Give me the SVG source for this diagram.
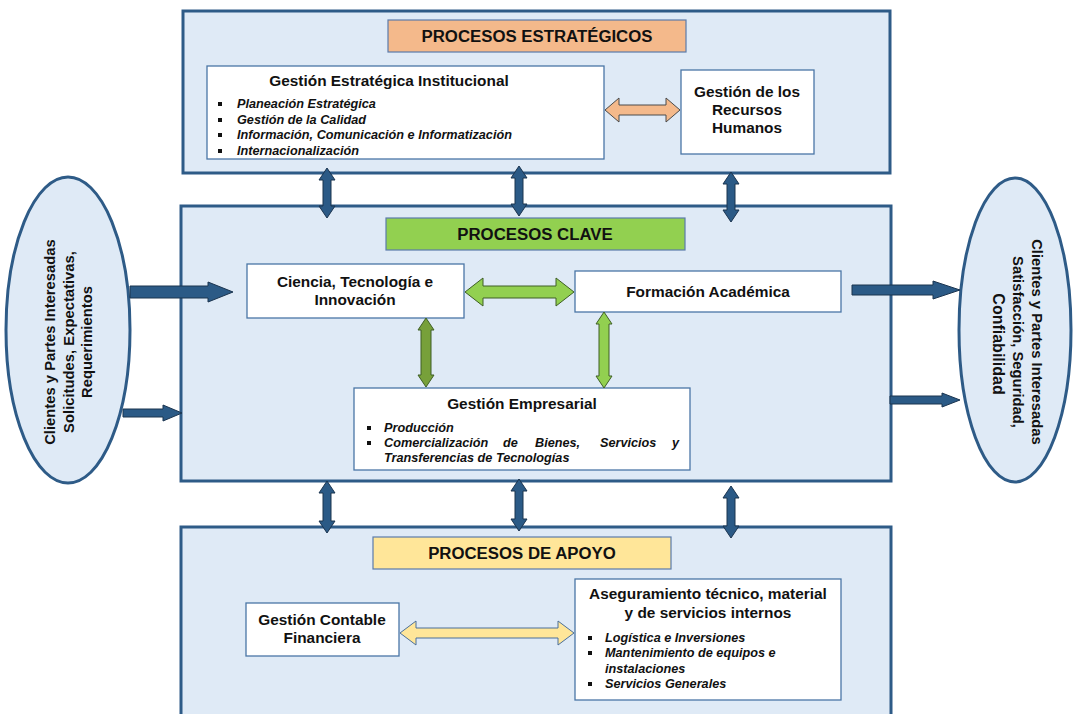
<svg xmlns="http://www.w3.org/2000/svg" width="1073" height="714" viewBox="0 0 1073 714">
<style>
.cont{fill:#dfeaf6;stroke:#2e5b87;stroke-width:3}
.box{fill:#ffffff;stroke:#4a76a6;stroke-width:1.3}
.ell{fill:#dfeaf6;stroke:#2e5b87;stroke-width:3}
.t{font-family:"Liberation Sans",Arial,sans-serif;font-weight:bold;fill:#111}
.ttl{font-size:16.8px;text-anchor:middle}
.hd{font-size:15.4px;text-anchor:middle}
.bl{font-size:12.7px;font-style:italic}
.side{font-size:14.8px;text-anchor:middle}
.bu{fill:#111}
.ba{fill:#2b5a86;stroke:#1b344f;stroke-width:1}
</style>
<rect width="1073" height="714" fill="#ffffff"/>

<g id="estrategicos">
<rect class="cont" x="183" y="11" width="707" height="162"/>
<rect x="388" y="20" width="298" height="32" fill="#f4b98b" stroke="#5b7bab" stroke-width="1.2"/>
<text class="t ttl" x="537" y="42">PROCESOS ESTRATÉGICOS</text>
</g>

<g id="clave">
<rect class="cont" x="181" y="206" width="710" height="275"/>
<rect x="386" y="218" width="299" height="32" fill="#92d050" stroke="#5b7bab" stroke-width="1.2"/>
<text class="t ttl" x="535" y="240">PROCESOS CLAVE</text>
</g>

<g id="apoyo">
<rect class="cont" x="181" y="527" width="710" height="200"/>
<rect x="373" y="537" width="298" height="32" fill="#ffe699" stroke="#5b7bab" stroke-width="1.2"/>
<text class="t ttl" x="522" y="559">PROCESOS DE APOYO</text>
</g>

<g id="gestion-estrategica">
<rect class="box" x="207" y="66" width="397" height="93"/>
<text class="t hd" x="389" y="86">Gestión Estratégica Institucional</text>
<rect class="bu" x="218" y="102" width="4" height="4"/>
<rect class="bu" x="218" y="118" width="4" height="4"/>
<rect class="bu" x="218" y="133" width="4" height="4"/>
<rect class="bu" x="218" y="149" width="4" height="4"/>
<text class="t bl" x="237" y="108">Planeación Estratégica</text>
<text class="t bl" x="237" y="124">Gestión de la Calidad</text>
<text class="t bl" x="237" y="139">Información, Comunicación e Informatización</text>
<text class="t bl" x="237" y="155">Internacionalización</text>
</g>

<g id="recursos-humanos">
<rect class="box" x="681" y="70" width="133" height="84"/>
<text class="t hd" x="747" y="97">Gestión de los</text>
<text class="t hd" x="747" y="115">Recursos</text>
<text class="t hd" x="747" y="133">Humanos</text>
</g>

<g id="ciencia">
<rect class="box" x="247" y="264" width="217" height="54"/>
<text class="t hd" x="355" y="287">Ciencia, Tecnología e</text>
<text class="t hd" x="355" y="305">Innovación</text>
</g>

<g id="formacion">
<rect class="box" x="575" y="271" width="266" height="41"/>
<text class="t hd" x="708" y="297">Formación Académica</text>
</g>

<g id="gestion-empresarial">
<rect class="box" x="354" y="388" width="336" height="82"/>
<text class="t hd" x="522" y="409">Gestión Empresarial</text>
<rect class="bu" x="367" y="426" width="4" height="4"/>
<rect class="bu" x="367" y="441" width="4" height="4"/>
<text class="t bl" x="384" y="432">Producción</text>
<text class="t bl" y="447"><tspan x="384">Comercialización</tspan> <tspan x="503">de</tspan> <tspan x="535">Bienes,</tspan> <tspan x="600">Servicios</tspan> <tspan x="672">y</tspan></text>
<text class="t bl" x="384" y="462">Transferencias de Tecnologías</text>
</g>

<g id="contable">
<rect class="box" x="246" y="603" width="153" height="53"/>
<text class="t hd" x="322" y="625">Gestión Contable</text>
<text class="t hd" x="322" y="643">Financiera</text>
</g>

<g id="aseguramiento">
<rect class="box" x="575" y="579" width="266" height="121"/>
<text class="t hd" x="708" y="599">Aseguramiento técnico, material</text>
<text class="t hd" x="708" y="618">y de servicios internos</text>
<rect class="bu" x="588" y="636" width="4" height="4"/>
<rect class="bu" x="588" y="651" width="4" height="4"/>
<rect class="bu" x="588" y="682" width="4" height="4"/>
<text class="t bl" x="605" y="642">Logística e Inversiones</text>
<text class="t bl" x="605" y="657">Mantenimiento de equipos e</text>
<text class="t bl" x="605" y="673">instalaciones</text>
<text class="t bl" x="605" y="688">Servicios Generales</text>
</g>

<g id="clientes-entrada">
<ellipse class="ell" cx="68" cy="330" rx="62" ry="153"/>
<text class="t side" transform="translate(55,342) rotate(-90)">Clientes y Partes Interesadas</text>
<text class="t side" transform="translate(74,342) rotate(-90)">Solicitudes, Expectativas,</text>
<text class="t side" transform="translate(92,342) rotate(-90)">Requerimientos</text>
</g>

<g id="clientes-salida">
<ellipse class="ell" cx="1015" cy="330" rx="56" ry="152"/>
<text class="t side" transform="translate(1032,342) rotate(90)">Clientes y Partes Interesadas</text>
<text class="t side" transform="translate(1013,342) rotate(90)">Satisfacción, Seguridad,</text>
<text class="t" style="font-size:16px;text-anchor:middle" transform="translate(993,344) rotate(90)">Confiabilidad</text>
</g>

<g id="connectors">
<polygon points="605,110 619,98 619,105 666,105 666,98 680,110 666,122 666,115 619,115 619,122" fill="#f4b98b" stroke="#4a4a4a" stroke-width="1"/>
<polygon points="465,292 483,278 483,286 556,286 556,278 574,292 556,306 556,298 483,298 483,306" fill="#92d050" stroke="#3f5f25" stroke-width="1"/>
<polygon points="426,318 434,330 431,330 431,375 434,375 426,387 418,375 421,375 421,330 418,330" fill="#77a03a" stroke="#3f5f25" stroke-width="1"/>
<polygon points="604,312 612,324 609,324 609,376 612,376 604,388 596,376 599,376 599,324 596,324" fill="#92d050" stroke="#3f5f25" stroke-width="1"/>
<polygon points="400,633 416,621 416,628 558,628 558,621 574,633 558,645 558,638 416,638 416,645" fill="#ffe699" stroke="#4a6f9a" stroke-width="1"/>

<polygon class="ba" points="327,168 335,180 331,180 331,206 335,206 327,218 319,206 323,206 323,180 319,180"/>
<polygon class="ba" points="519,166 527,178 523,178 523,204 527,204 519,216 511,204 515,204 515,178 511,178"/>
<polygon class="ba" points="731,172 739,184 735,184 735,210 739,210 731,222 723,210 727,210 727,184 723,184"/>
<polygon class="ba" points="327,481 335,493 331,493 331,521 335,521 327,533 319,521 323,521 323,493 319,493"/>
<polygon class="ba" points="519,479 527,491 523,491 523,519 527,519 519,531 511,519 515,519 515,491 511,491"/>
<polygon class="ba" points="731,486 739,498 735,498 735,526 739,526 731,538 723,526 727,526 727,498 723,498"/>

<polygon class="ba" points="130,286 208,286 208,282 233,292 208,302 208,298 130,298"/>
<polygon class="ba" points="123,409 163,409 163,405 182,413 163,421 163,417 123,417"/>
<polygon class="ba" points="852,285 933,285 933,281 960,290 933,299 933,295 852,295"/>
<polygon class="ba" points="890,396 942,396 942,393 960,400 942,407 942,404 890,404"/>
</g>
</svg>
